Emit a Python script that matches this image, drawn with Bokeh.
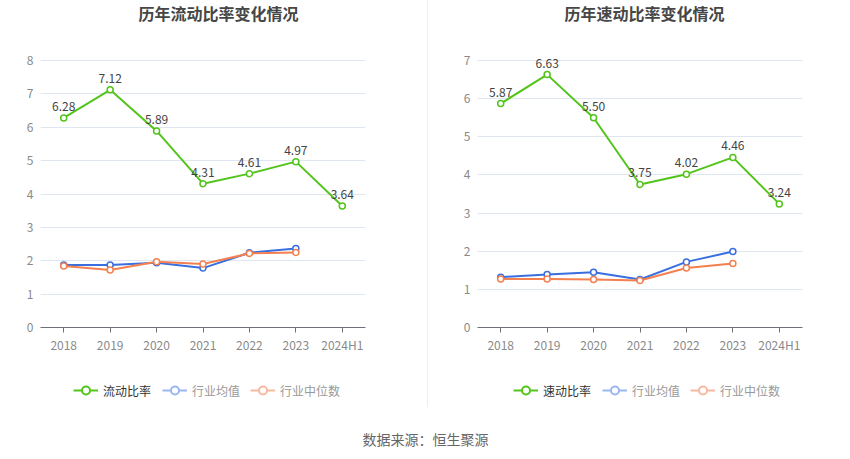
from bokeh.plotting import figure
from bokeh.models import Legend, LegendItem, ColumnDataSource, FixedTicker, Div, Range1d
from bokeh.layouts import row, column
from bokeh.embed import file_html
from bokeh.resources import INLINE
from bokeh.core.properties import value

years = ["2018", "2019", "2020", "2021", "2022", "2023", "2024H1"]
years_ind = ["2018", "2019", "2020", "2021", "2022", "2023"]

current_ratio = [6.28, 7.12, 5.89, 4.31, 4.61, 4.97, 3.64]
current_ind_mean = [1.87, 1.87, 1.94, 1.78, 2.24, 2.37]
current_ind_median = [1.84, 1.72, 1.97, 1.90, 2.22, 2.25]

quick_ratio = [5.87, 6.63, 5.50, 3.75, 4.02, 4.46, 3.24]
quick_ind_mean = [1.32, 1.39, 1.45, 1.26, 1.72, 1.99]
quick_ind_median = [1.27, 1.27, 1.26, 1.23, 1.56, 1.68]

FONT = "Noto Sans CJK SC"
GREEN = "#52c41a"
BLUE = "#3a6fe0"
ORANGE = "#f4804f"
LBLUE = "#9ab7f4"
LORANGE = "#f9b9a1"

EXTRA_TOP = 15        # px of headroom above the top gridline for value labels
AXIS_PX = 267         # px between 0 and the top tick


def blank(width, height, xr, yr):
    f = figure(width=width, height=height, x_range=Range1d(*xr), y_range=Range1d(*yr),
               x_axis_type=None, y_axis_type=None, title=None,
               output_backend="svg", toolbar_location=None, min_border=0)
    f.grid.visible = False
    f.outline_line_color = None
    return f


def make_title(text, width, xr, xc):
    f = blank(width, 30, xr, (0, 30))
    f.text(x=[xc], y=[17.5], text=[text], text_font=value(FONT), text_font_size="16px",
           text_font_style="bold", text_color="#464646", text_align="center", text_baseline="middle")
    return f


def make_chart(main, mean, median, ymax, width, bl, br):
    yend = ymax * (AXIS_PX + EXTRA_TOP) / AXIS_PX
    p = figure(x_range=years, y_range=Range1d(0, yend), width=width, height=325, title=None,
               min_border_top=30 - EXTRA_TOP, min_border_bottom=28, min_border_left=bl, min_border_right=br,
               output_backend="svg", toolbar_location=None)
    p.outline_line_color = None
    p.background_fill_color = "white"
    p.border_fill_color = "white"
    p.xgrid.grid_line_color = None
    p.ygrid.grid_line_color = "#e0e6f1"
    p.yaxis.ticker = FixedTicker(ticks=list(range(0, ymax + 1)))
    p.yaxis.axis_line_color = None
    p.yaxis.major_tick_line_color = None
    p.yaxis.minor_tick_line_color = None
    p.yaxis.major_tick_out = 0
    p.yaxis.minor_tick_out = 0
    p.yaxis.major_label_standoff = 7
    p.xaxis.axis_line_color = "#6e7079"
    p.xaxis.major_tick_line_color = "#6e7079"
    p.xaxis.major_tick_out = 5
    p.xaxis.major_tick_in = 0
    p.xaxis.major_label_standoff = 3
    for ax in (p.xaxis, p.yaxis):
        ax.major_label_text_font = FONT
        ax.major_label_text_font_size = "12px"
        ax.major_label_text_color = "#8a8a8a"

    src_main = ColumnDataSource(dict(x=years, y=main, lab=["%.2f" % v for v in main]))
    src_mean = ColumnDataSource(dict(x=years_ind, y=mean))
    src_med = ColumnDataSource(dict(x=years_ind, y=median))

    p.line("x", "y", source=src_mean, line_color=BLUE, line_width=2)
    p.scatter("x", "y", source=src_mean, size=6, fill_color="white", line_color=BLUE, line_width=1.5)
    p.line("x", "y", source=src_med, line_color=ORANGE, line_width=2)
    p.scatter("x", "y", source=src_med, size=6, fill_color="white", line_color=ORANGE, line_width=1.5)
    p.line("x", "y", source=src_main, line_color=GREEN, line_width=2)
    p.scatter("x", "y", source=src_main, size=6, fill_color="white", line_color=GREEN, line_width=1.5)
    p.text("x", "y", text="lab", source=src_main, text_font=value(FONT), text_font_size="12px",
           text_color="#444444", text_align="center", text_baseline="bottom", y_offset=-7)
    return p


def make_legend(main_name, width, xr, lx1, lx2):
    f = blank(width, 52, xr, (0, 1))
    items = []
    for name, col in ((main_name, GREEN), ("行业均值", LBLUE), ("行业中位数", LORANGE)):
        s = ColumnDataSource(dict(x=[-5000.0], y=[-5.0]))
        l = f.line("x", "y", source=s, line_color=col, line_width=2)
        c = f.scatter("x", "y", source=s, size=11, fill_color="white", line_color=col, line_width=2)
        items.append(LegendItem(label=name, renderers=[l, c]))
    common = dict(orientation="horizontal", glyph_width=25, glyph_height=20, label_standoff=5,
                  spacing=10, padding=0, margin=0, border_line_color=None,
                  background_fill_alpha=0, label_text_font=FONT, label_text_font_size="12px")
    f.add_layout(Legend(items=items[:1], location=(lx1, 7), label_text_color="#333333", **common), "center")
    f.add_layout(Legend(items=items[1:], location=(lx2, 7), label_text_color="#999999", **common), "center")
    return f


t1 = make_title("历年流动比率变化情况", 427, (40, 365), 218)
t2 = make_title("历年速动比率变化情况", 422, (477, 802), 644)
p1 = make_chart(current_ratio, current_ind_mean, current_ind_median, 8, 427, 40, 62)
p2 = make_chart(quick_ratio, quick_ind_mean, quick_ind_median, 7, 422, 49, 48)
l1 = make_legend("流动比率", 427, (40, 365), 33, 122)
l2 = make_legend("速动比率", 422, (477, 802), 36, 125)

sep = Div(text="", width=1, height=407, margin=0, styles={"background-color": "#efefef"})

foot = blank(850, 52, (0, 850), (0, 52))
foot.text(x=[425], y=[21], text=["数据来源：恒生聚源"], text_font=value(FONT), text_font_size="14px",
          text_color="#666666", text_align="center", text_baseline="middle")

layout = column(row(column(t1, p1, l1), sep, column(t2, p2, l2)), foot)
open("out.html", "w").write(file_html(layout, INLINE))
